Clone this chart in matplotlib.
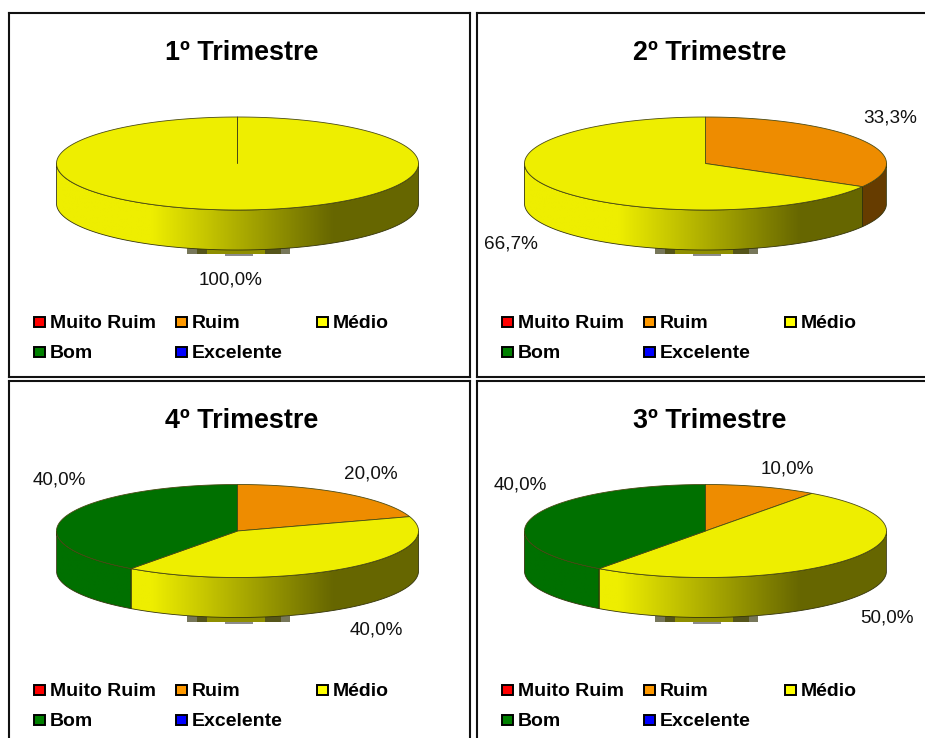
import numpy as np
import matplotlib
matplotlib.use('Agg')
from matplotlib import pyplot as plt
from matplotlib.patches import Polygon, Rectangle

plt.rcParams['font.family'] = ['Liberation Sans', 'DejaVu Sans']

W, H = 925, 738

categories = ['Muito Ruim', 'Ruim', 'Médio', 'Bom', 'Excelente']
titles = ['1º Trimestre', '2º Trimestre', '4º Trimestre', '3º Trimestre']

# percentages, in the order of categories
q1 = [0, 0, 100.0, 0, 0]
q2 = [0, 33.3, 66.7, 0, 0]
q4 = [0, 20.0, 40.0, 40.0, 0]
q3 = [0, 10.0, 50.0, 40.0, 0]
panel_values = [q1, q2, q4, q3]

top_colors = ['#EE0000', '#EE8C00', '#EEEE00', '#007000', '#0000EE']
key_colors = ['#FF0000', '#FF9900', '#FFFF00', '#008000', '#0000FF']

# panel boxes in pixels: left, top
panel_pos = [(9, 13), (477, 13), (9, 381), (477, 381)]
PW, PH = 461, 364

# where each percent label sits inside its panel (pixels, centre)
label_pos = [
    {2: (222, 267)},
    {1: (413, 105), 2: (34, 231)},
    {1: (362, 93), 2: (367, 249), 3: (50, 99)},
    {1: (310, 88), 2: (410, 237), 3: (43, 104)},
]
pie_y = [150.5, 150.5, 150, 150]

CX = 228.5
RX, RY = 181, 46.5
DEPTH = 40
KEY_X = [25, 167, 308]


def shade(x):
    # light falls off left to right along the rim
    return np.interp((x - CX) / RX, [-1, -0.48, 0.53, 1], [1, 1, 0.43, 0.43])


def arc(cy, a0, a1, n=200):
    # angles are clockwise from the top of the pie
    t = np.radians(np.linspace(a0, a1, n))
    return np.column_stack([CX + RX * np.sin(t), cy - RY * np.cos(t)])


fig = plt.figure(figsize=(W / 100, H / 100), dpi=100)

for i in range(4):
    left, top = panel_pos[i]
    ax = fig.add_axes([left / W, 1 - (top + PH) / H, PW / W, PH / H])
    ax.set_xlim(0, PW)
    ax.set_ylim(PH, 0)
    ax.set_xticks([])
    ax.set_yticks([])
    for s in ax.spines.values():
        s.set_linewidth(1.5)
        s.set_color('#111111')

    cy = pie_y[i]
    ax.text(232.5, 40, titles[i], fontsize=19.4, fontweight='bold', ha='center', va='center', color='black')

    # smudge under the pie
    base = cy + RY + DEPTH
    for x0, x1, y0, y1, c in [(216, 244, base + 3, base + 6, '#8c8c8c'),
                              (178, 281, base - 2, base + 4, '#77775a'),
                              (188, 272, base - 2, base + 4, '#55551a'),
                              (198, 256, base - 2, base + 4, '#8f8f00')]:
        ax.add_patch(Rectangle((x0, y0), x1 - x0, y1 - y0, fc=c, ec='none', zorder=1))

    vals = panel_values[i]
    start = 0
    for v, col in zip(vals, top_colors):
        if v == 0:
            continue
        end = start + v * 3.6

        # rim: only the part facing the viewer, 90 to 270 degrees
        a0, a1 = max(start, 90), min(end, 270)
        if a1 > a0:
            front = arc(cy, a0, a1)
            back = front[::-1] + [0, DEPTH]
            poly = Polygon(np.vstack([front, back]), closed=True, fc='none', ec='#33330a', lw=0.6, zorder=3)
            ax.add_patch(poly)
            xs = np.linspace(CX - RX, CX + RX, 256)
            img = np.ones((1, 256, 3)) * np.array(matplotlib.colors.to_rgb(col))
            img = img * shade(xs)[None, :, None]
            im = ax.imshow(img, extent=(CX - RX, CX + RX, cy + RY + DEPTH, cy - RY), aspect='auto', zorder=2)
            im.set_clip_path(poly)

        # top face
        pts = np.vstack([[[CX, cy]], arc(cy, start, end)])
        ax.add_patch(Polygon(pts, closed=True, fc=col, ec='#4a4a14', lw=0.6, zorder=4))
        start = end

    ax.set_xlim(0, PW)
    ax.set_ylim(PH, 0)

    for k, (lx, ly) in label_pos[i].items():
        txt = ('%.1f%%' % vals[k]).replace('.', ',')
        ax.text(lx, ly, txt, fontsize=13.6, ha='center', va='center', color='#111111', zorder=5)

    # legend, filled row by row
    for j, name in enumerate(categories):
        kx = KEY_X[j % 3]
        ky = 309 + 30 * (j // 3)
        ax.add_patch(Rectangle((kx, ky - 5), 11, 10, fc=key_colors[j], ec='black', lw=1.4, zorder=5))
        ax.text(kx + 16, ky + 1.5, name, fontsize=14, fontweight='bold', ha='left', va='center', color='black', zorder=5)

fig.savefig('out.png', dpi=100)
